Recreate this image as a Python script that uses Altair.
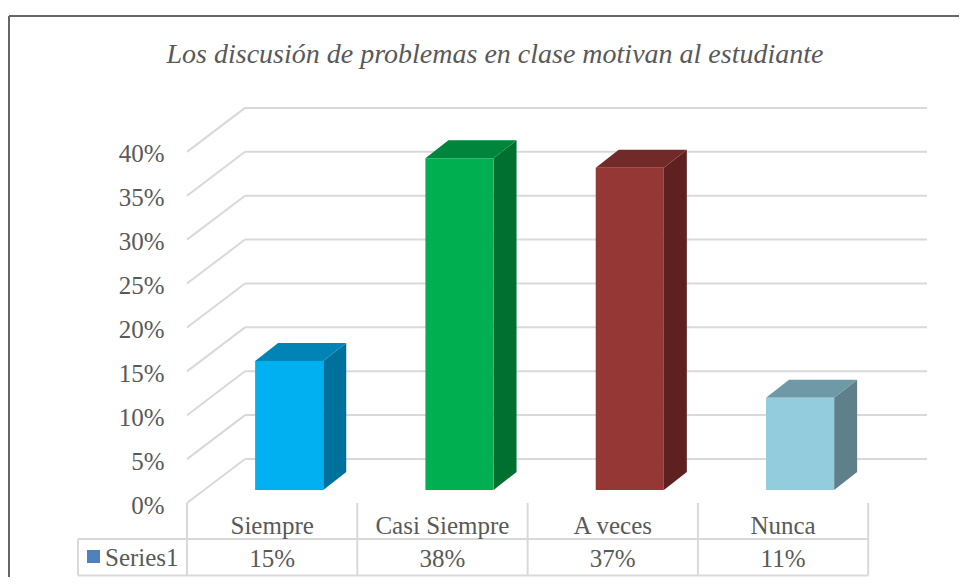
import altair as alt
import pandas as pd

# ---- values ----
categories = ["Siempre", "Casi Siempre", "A veces", "Nunca"]
bar_heights = [14.7, 37.8, 36.7, 10.5]
table_labels = ["15%", "38%", "37%", "11%"]
tick_values = [0, 5, 10, 15, 20, 25, 30, 35, 40]
front_colors = ["#00B0F0", "#00B050", "#953735", "#93CDDD"]
side_colors = ["#00709C", "#007030", "#5E2120", "#5E808B"]
top_colors = ["#0084B5", "#00853D", "#722A28", "#6F99A6"]
title_text = "Los discusión de problemas en clase motivan al estudiante"
series_name = "Series1"

FONT = "Liberation Serif"
TXT = "#595959"
GRID = "#D9D9D9"

# scale geometry: one category = 170.3 px; one percent point = 8.78 px
W, H, XMAX, YMAX = 740, 395, 740 / 170.3, 45
def ux(px): return (px - 187) / 170.3
def uy(px): return (503 - px) / 8.78

DX, DY = 58 / 170.3, 44 / 8.78        # wall depth
BX, BY = 23 / 170.3, 18 / 8.78        # bar depth
BASE = uy(490)
BL, BW = 0.4, 0.4

xs = alt.Scale(domain=[0, XMAX], range=[0, W], nice=False, zero=False)
ys = alt.Scale(domain=[0, YMAX], range=[H, 0], nice=False, zero=False)
y_axis = alt.Axis(
    values=tick_values, labelExpr="datum.value + '%'", title=None,
    domain=False, ticks=False, grid=False, labelFont=FONT, labelFontSize=25,
    labelColor=TXT, labelPadding=23, labelBaseline="middle", labelOffset=2)
X = alt.X("x:Q", scale=xs, axis=None)
Y = alt.Y("y:Q", scale=ys, axis=y_axis)
X2, Y2 = alt.X2("x2:Q"), alt.Y2("y2:Q")

def rules(rows, color, width):
    return alt.Chart(pd.DataFrame(rows, columns=["x", "y", "x2", "y2"])).mark_rule(
        color=color, strokeWidth=width).encode(x=X, y=Y, x2=X2, y2=Y2)

def texts(rows, size, color=TXT, align="center", italic=False):
    return alt.Chart(pd.DataFrame(rows, columns=["x", "y", "t"])).mark_text(
        font=FONT, fontSize=size, color=color, align=align, baseline="middle",
        fontStyle="italic" if italic else "normal").encode(x=X, y=Y, text="t:N")

# frame
frame = rules([[ux(9), uy(16), ux(967), uy(16)], [ux(9), uy(16), ux(9), uy(590)]], "#666666", 2)

# walls
back = rules([[DX, v + DY, XMAX, v + DY] for v in tick_values], GRID, 2)
diag = rules([[0, v, DX, v + DY] for v in tick_values], GRID, 2)

# bars
front_rows, side_rows, top_rows = [], [], []
for i, (c, h) in enumerate(zip(categories, bar_heights)):
    l, r = i + BL, i + BL + BW
    b, t = BASE, BASE + h
    front_rows.append(dict(c=c, x=l, x2=r, y=b, y2=t))
    side_rows += [dict(c=c, x=r, y=b, y2=t), dict(c=c, x=r + BX, y=b + BY, y2=t + BY)]
    top_rows += [dict(c=c, x=l, y=t, y2=t),
                 dict(c=c, x=l + BX, y=t, y2=t + BY),
                 dict(c=c, x=r, y=t, y2=t + BY),
                 dict(c=c, x=r + BX, y=t + BY, y2=t + BY)]

def col(rng):
    return alt.Color("c:N", scale=alt.Scale(domain=categories, range=rng), legend=None)

front = alt.Chart(pd.DataFrame(front_rows)).mark_rect().encode(
    x=X, x2=X2, y=Y, y2=Y2, color=col(front_colors))
side = alt.Chart(pd.DataFrame(side_rows)).mark_area(interpolate="linear").encode(
    x=X, y=Y, y2=Y2, color=col(side_colors))
top = alt.Chart(pd.DataFrame(top_rows)).mark_area(interpolate="linear").encode(
    x=X, y=Y, y2=Y2, color=col(top_colors))

# data table
n = len(categories)
table = rules(
    [[ux(78), uy(539), n, uy(539)], [ux(78), uy(575.5), n, uy(575.5)], [ux(78), uy(539), ux(78), uy(575.5)]]
    + [[i, uy(503), i, uy(575.5)] for i in range(n + 1)], GRID, 2)
cat_text = texts([[i + 0.5, uy(526), c] for i, c in enumerate(categories)], 25)
val_text = texts([[i + 0.5, uy(559), s] for i, s in enumerate(table_labels)], 25)
ser_text = texts([[ux(105), uy(558), series_name]], 25, align="left")
swatch = alt.Chart(pd.DataFrame([dict(x=ux(87), x2=ux(100), y=uy(550), y2=uy(563))])).mark_rect(
    color="#4F81BD").encode(x=X, x2=X2, y=Y, y2=Y2)

title = texts([[ux(495), uy(55), title_text]], 28, color="#595959", italic=True)

chart = alt.layer(
    frame, back, diag, side, top, front, table, cat_text, val_text, ser_text, swatch, title
).resolve_scale(color="independent").properties(
    width=W, height=H, autosize="none",
    padding={"left": 179, "top": 100, "right": 32, "bottom": 74},
    background="white",
).configure_view(stroke=None)

chart.save("out.html", embed_options={"renderer": "svg", "actions": False})
